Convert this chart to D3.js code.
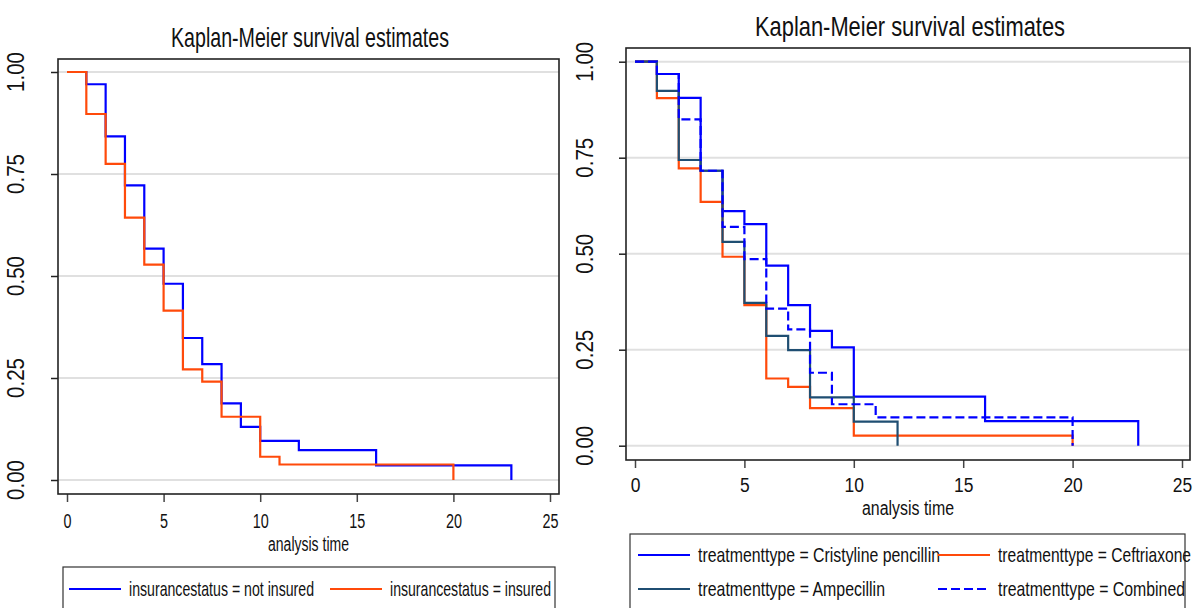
<!DOCTYPE html>
<html>
<head>
<meta charset="utf-8">
<script src="https://cdn.jsdelivr.net/npm/d3@7"></script>
<style>
    body { margin: 0; background: #fff; }
    text { font-family: 'Liberation Sans Narrow', 'Arial Narrow', 'Liberation Sans', Arial, sans-serif; fill: #111; }
</style>
</head>
<body>
<div id="visualization"></div>
<script>
// Axis ticks
const xTicks = [0, 5, 10, 15, 20, 25];
const yTicks = [0, 0.25, 0.5, 0.75, 1];
const yTickLabels = ['0.00', '0.25', '0.50', '0.75', '1.00'];
const chartTitle = 'Kaplan-Meier survival estimates';
const xTitle = 'analysis time';

// Left chart: insurance status
const notInsuredTime = [0, 1, 2, 3, 4, 5, 6, 7, 8, 9, 10, 12, 16, 23];
const notInsuredSurv = [1, 0.970, 0.842, 0.722, 0.567, 0.481, 0.348, 0.284, 0.188, 0.130, 0.096, 0.073, 0.036, 0];
const insuredTime = [0, 1, 2, 3, 4, 5, 6, 7, 8, 10, 11, 20];
const insuredSurv = [1, 0.897, 0.775, 0.643, 0.528, 0.415, 0.271, 0.241, 0.155, 0.057, 0.038, 0];

// Right chart: treatment type
const cristylineTime = [0, 1, 2, 3, 4, 5, 6, 7, 8, 9, 10, 16, 23];
const cristylineSurv = [1, 0.968, 0.906, 0.716, 0.611, 0.577, 0.469, 0.366, 0.299, 0.256, 0.128, 0.064, 0];
const ceftriaxoneTime = [0, 1, 2, 3, 4, 5, 6, 7, 8, 10, 20];
const ceftriaxoneSurv = [1, 0.905, 0.722, 0.635, 0.492, 0.366, 0.175, 0.153, 0.098, 0.026, 0];
const ampecillinTime = [0, 1, 2, 3, 4, 5, 6, 7, 8, 10, 12];
const ampecillinSurv = [1, 0.924, 0.744, 0.716, 0.531, 0.372, 0.286, 0.249, 0.126, 0.0625, 0];
const combinedTime = [0, 1, 2, 3, 4, 5, 6, 7, 8, 9, 11, 20];
const combinedSurv = [1, 0.968, 0.850, 0.716, 0.570, 0.486, 0.357, 0.303, 0.190, 0.108, 0.074, 0];

const BLUE = '#0000ff';
const ORANGE = '#ff4a0a';
const NAVY = '#1f4e72';

const svg = d3.select('#visualization')
    .append('svg')
    .attr('width', 1198)
    .attr('height', 608);

// squeeze text into a measured width
function fit(sel, w) {
    sel.attr('textLength', w).attr('lengthAdjust', 'spacingAndGlyphs');
}

function toPoints(times, surv) {
    return times.map((t, i) => ({ t: t, s: surv[i] }));
}

function drawPanel(cfg) {
    const g = svg.append('g');
    const f = cfg.frame;

    const x = d3.scaleLinear().domain([0, 25]).range(cfg.xRange);
    const y = d3.scaleLinear().domain([0, 1]).range(cfg.yRange);

    // gridlines
    g.selectAll('.grid')
        .data(yTicks)
        .enter()
        .append('line')
        .attr('x1', f.left)
        .attr('x2', f.right)
        .attr('y1', d => y(d))
        .attr('y2', d => y(d))
        .attr('stroke', '#e0e0e0')
        .attr('stroke-width', 2);

    // y axis ticks
    const yAxis = g.append('g')
        .attr('transform', `translate(${f.left},0)`)
        .call(d3.axisLeft(y).tickValues(yTicks).tickSize(7).tickFormat(''));
    yAxis.select('.domain').remove();
    yAxis.selectAll('line').attr('stroke', '#222').attr('stroke-width', 1.5);

    g.selectAll('.ylab')
        .data(yTicks)
        .enter()
        .append('text')
        .attr('transform', (d) => `translate(${cfg.yLabelX},${y(d)}) rotate(-90)`)
        .attr('text-anchor', 'middle')
        .style('font-size', '23px')
        .text((d, i) => yTickLabels[i])
        .call(fit, 40);

    // x axis
    const xAxis = g.append('g')
        .attr('transform', `translate(0,${f.bottom})`)
        .call(d3.axisBottom(x).tickValues(xTicks).tickSize(8).tickPadding(0).tickFormat(d3.format('d')));
    xAxis.select('.domain').remove();
    xAxis.selectAll('line').attr('stroke', '#444').attr('stroke-width', 1.5);
    xAxis.selectAll('text')
        .attr('y', cfg.xLabelDy)
        .attr('dy', 0)
        .style('font-size', '20px')
        .attr('fill', '#111')
        .each(function(d) {
            d3.select(this).call(fit, String(d).length * cfg.digitW);
        });

    g.append('text')
        .attr('x', (f.left + f.right) / 2)
        .attr('y', cfg.xTitleY)
        .attr('text-anchor', 'middle')
        .style('font-size', '20px')
        .text(xTitle)
        .call(fit, cfg.xTitleW);

    // title
    g.append('text')
        .attr('x', cfg.titleX)
        .attr('y', cfg.titleY)
        .attr('text-anchor', 'middle')
        .style('font-size', '28px')
        .text(chartTitle)
        .call(fit, cfg.titleW);

    // survival curves
    const line = d3.line()
        .curve(d3.curveStepAfter)
        .x(d => x(d.t))
        .y(d => y(d.s));

    cfg.series.forEach(s => {
        g.append('path')
            .datum(toPoints(s.time, s.surv))
            .attr('fill', 'none')
            .attr('stroke', s.color)
            .attr('stroke-width', 2.2)
            .attr('stroke-dasharray', s.dash || null)
            .attr('d', line);
    });

    // plot frame
    g.append('rect')
        .attr('x', f.left)
        .attr('y', f.top)
        .attr('width', f.right - f.left)
        .attr('height', f.bottom - f.top)
        .attr('fill', 'none')
        .attr('stroke', '#222')
        .attr('stroke-width', 1.6);

    // legend
    const L = cfg.legend;
    g.append('rect')
        .attr('x', L.left)
        .attr('y', L.top)
        .attr('width', L.right - L.left)
        .attr('height', 80)
        .attr('fill', 'none')
        .attr('stroke', '#333')
        .attr('stroke-width', 1.2);

    const items = g.selectAll('.leg')
        .data(cfg.series)
        .enter()
        .append('g')
        .attr('transform', (d, i) => `translate(${L.cols[i % 2]},${L.rows[Math.floor(i / 2)]})`);

    items.append('line')
        .attr('x1', 0)
        .attr('x2', 52)
        .attr('stroke', d => d.color)
        .attr('stroke-width', 2.2)
        .attr('stroke-dasharray', d => d.dash ? '9,4' : null);

    items.append('text')
        .attr('x', 60)
        .attr('y', 7)
        .style('font-size', '21px')
        .text(d => d.label)
        .each(function(d) {
            d3.select(this).call(fit, d.labelW);
        });
}

drawPanel({
    frame: { left: 58, right: 559, top: 59, bottom: 494 },
    xRange: [67, 550],
    yRange: [480, 72],
    yLabelX: 24,
    xLabelDy: 34,
    digitW: 8,
    xTitleY: 551,
    xTitleW: 81,
    titleX: 310,
    titleY: 47,
    titleW: 278,
    legend: { left: 63, right: 555, top: 567, cols: [69, 330], rows: [589] },
    series: [
        { time: notInsuredTime, surv: notInsuredSurv, color: BLUE, label: 'insurancestatus = not insured', labelW: 185 },
        { time: insuredTime, surv: insuredSurv, color: ORANGE, label: 'insurancestatus = insured', labelW: 161 }
    ]
});

drawPanel({
    frame: { left: 626, right: 1190, top: 48, bottom: 460 },
    xRange: [635, 1182],
    yRange: [445.7, 61.7],
    yLabelX: 593,
    xLabelDy: 32,
    digitW: 9.7,
    xTitleY: 515,
    xTitleW: 92,
    titleX: 910,
    titleY: 36,
    titleW: 310,
    legend: { left: 630, right: 1185, top: 534, cols: [638, 938], rows: [555, 589] },
    series: [
        { time: cristylineTime, surv: cristylineSurv, color: BLUE, label: 'treatmenttype = Cristyline pencillin', labelW: 242 },
        { time: ceftriaxoneTime, surv: ceftriaxoneSurv, color: ORANGE, label: 'treatmenttype = Ceftriaxone', labelW: 193 },
        { time: ampecillinTime, surv: ampecillinSurv, color: NAVY, label: 'treatmenttype = Ampecillin', labelW: 187 },
        { time: combinedTime, surv: combinedSurv, color: BLUE, dash: '9,4', label: 'treatmenttype = Combined', labelW: 187 }
    ]
});
</script>
</body>
</html>
